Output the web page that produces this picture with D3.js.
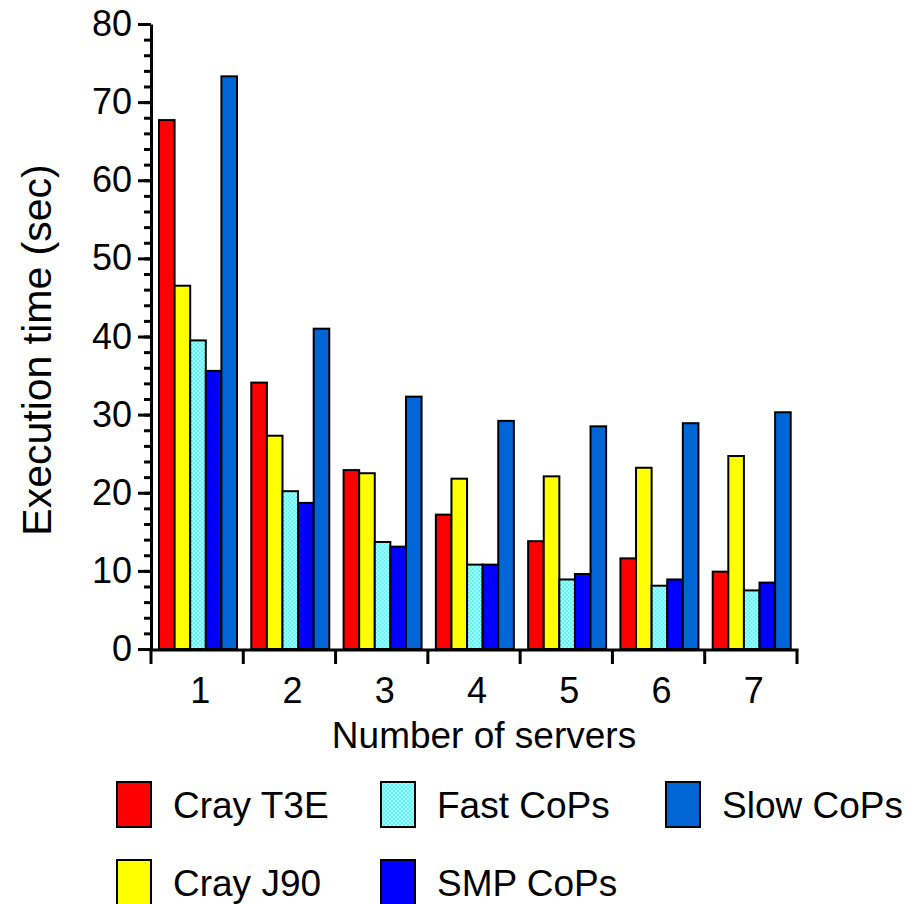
<!DOCTYPE html>
<html lang="en">
<head>
    <meta charset="UTF-8">
    <title>Execution time vs number of servers</title>
    <script src="https://d3js.org/d3.v7.min.js"></script>
    <style>
        body { margin: 0; background: #fff; }
        text { font-family: "Liberation Sans", Arial, sans-serif; fill: #000; }
    </style>
</head>
<body>
    <div id="chart"></div>

    <script>
        // Data
        var servers = ["1", "2", "3", "4", "5", "6", "7"];
        var seriesNames = ["Cray T3E", "Cray J90", "Fast CoPs", "SMP CoPs", "Slow CoPs"];
        var crayT3E  = [67.7, 34.1, 22.9, 17.2, 13.8, 11.6, 9.9];
        var crayJ90  = [46.5, 27.3, 22.5, 21.8, 22.1, 23.2, 24.7];
        var fastCoPs = [39.5, 20.2, 13.7, 10.8, 8.9, 8.1, 7.5];
        var smpCoPs  = [35.6, 18.7, 13.1, 10.8, 9.6, 8.9, 8.5];
        var slowCoPs = [73.3, 41.0, 32.3, 29.2, 28.5, 28.9, 30.3];
        var yTicks = [0, 10, 20, 30, 40, 50, 60, 70, 80];

        var seriesValues = [crayT3E, crayJ90, fastCoPs, smpCoPs, slowCoPs];
        var colors = ["#ff0000", "#ffff00", "url(#checker)", "#0000ff", "#0066d6"];

        var width = 918, height = 904;
        var svg = d3.select("#chart").append("svg")
            .attr("width", width)
            .attr("height", height);

        // checker pattern for the Fast CoPs bars
        var pat = svg.append("defs").append("pattern")
            .attr("id", "checker")
            .attr("patternUnits", "userSpaceOnUse")
            .attr("width", 4).attr("height", 4);
        pat.append("rect").attr("width", 4).attr("height", 4).attr("fill", "#a8ffff");
        pat.append("rect").attr("width", 2).attr("height", 2).attr("fill", "#5cf5f5");
        pat.append("rect").attr("x", 2).attr("y", 2).attr("width", 2).attr("height", 2).attr("fill", "#5cf5f5");

        // Scales
        var x0 = d3.scaleBand().domain(servers).range([151, 797]).padding(0);
        var x1 = d3.scaleBand().domain(seriesNames).range([8, 86]);
        var y = d3.scaleLinear().domain([0, 80]).range([649, 24]);

        // Bars
        var groups = svg.selectAll("g.group")
            .data(servers)
            .enter()
            .append("g")
            .attr("class", "group")
            .attr("transform", function (d) { return "translate(" + x0(d) + ",0)"; });

        groups.selectAll("rect")
            .data(function (d, i) {
                return seriesNames.map(function (s, j) { return { name: s, idx: j, value: seriesValues[j][i] }; });
            })
            .enter()
            .append("rect")
            .attr("x", function (d) { return x1(d.name); })
            .attr("y", function (d) { return y(d.value); })
            .attr("width", x1.bandwidth())
            .attr("height", function (d) { return y(0) - y(d.value); })
            .attr("fill", function (d) { return colors[d.idx]; })
            .attr("stroke", "#000")
            .attr("stroke-width", 2);

        // Y axis: minor ticks every 2, major every 10
        var yMinor = svg.append("g")
            .attr("transform", "translate(151,0)")
            .call(d3.axisLeft(y).tickValues(d3.range(0, 81, 2)).tickSize(7).tickSizeOuter(0).tickFormat(""));
        yMinor.select(".domain").remove();
        yMinor.selectAll("line").attr("stroke-width", 3);

        var yAxis = svg.append("g")
            .attr("transform", "translate(151,0)")
            .call(d3.axisLeft(y).tickValues(yTicks).tickSize(13).tickSizeOuter(0).tickPadding(6));
        yAxis.select(".domain").attr("stroke-width", 3);
        yAxis.selectAll("line").attr("stroke-width", 3);
        yAxis.selectAll("text")
            .style("font-size", "36px")
            .attr("font-family", null);

        // X axis: ticks at group boundaries, labels at group centres
        var xAxis = svg.append("g")
            .attr("transform", "translate(0,650)");
        xAxis.append("line")
            .attr("x1", x0.range()[0] - 1.5).attr("x2", x0.range()[1] + 1.5)
            .attr("stroke", "#000").attr("stroke-width", 3);
        xAxis.selectAll("line.tick")
            .data(servers.concat(["end"]))
            .enter()
            .append("line")
            .attr("class", "tick")
            .attr("x1", function (d) { return d === "end" ? x0.range()[1] : x0(d); })
            .attr("x2", function (d) { return d === "end" ? x0.range()[1] : x0(d); })
            .attr("y1", 0).attr("y2", 14)
            .attr("stroke", "#000").attr("stroke-width", 3);
        xAxis.selectAll("text.label")
            .data(servers)
            .enter()
            .append("text")
            .attr("class", "label")
            .attr("x", function (d) { return x0(d) + x0.bandwidth() / 2 + 3; })
            .attr("y", 53)
            .attr("text-anchor", "middle")
            .style("font-size", "36px")
            .text(function (d) { return d; });

        // Axis titles
        svg.append("text")
            .attr("x", 484)
            .attr("y", 748)
            .attr("text-anchor", "middle")
            .style("font-size", "37px")
            .text("Number of servers");

        svg.append("text")
            .attr("transform", "translate(51,350) rotate(-90)")
            .attr("text-anchor", "middle")
            .style("font-size", "41px")
            .text("Execution time (sec)");

        // Legend (column-major, 2 rows)
        var legendX = [117, 381, 666];
        var legendY = [782, 860];
        var legend = svg.selectAll("g.legend")
            .data(seriesNames)
            .enter()
            .append("g")
            .attr("class", "legend")
            .attr("transform", function (d, i) {
                return "translate(" + legendX[Math.floor(i / 2)] + "," + legendY[i % 2] + ")";
            });
        legend.append("rect")
            .attr("width", 34).attr("height", 45)
            .attr("fill", function (d, i) { return colors[i]; })
            .attr("stroke", "#000").attr("stroke-width", 2);
        legend.append("text")
            .attr("x", 56)
            .attr("y", 36)
            .style("font-size", "37px")
            .text(function (d) { return d; });
    </script>
</body>
</html>
